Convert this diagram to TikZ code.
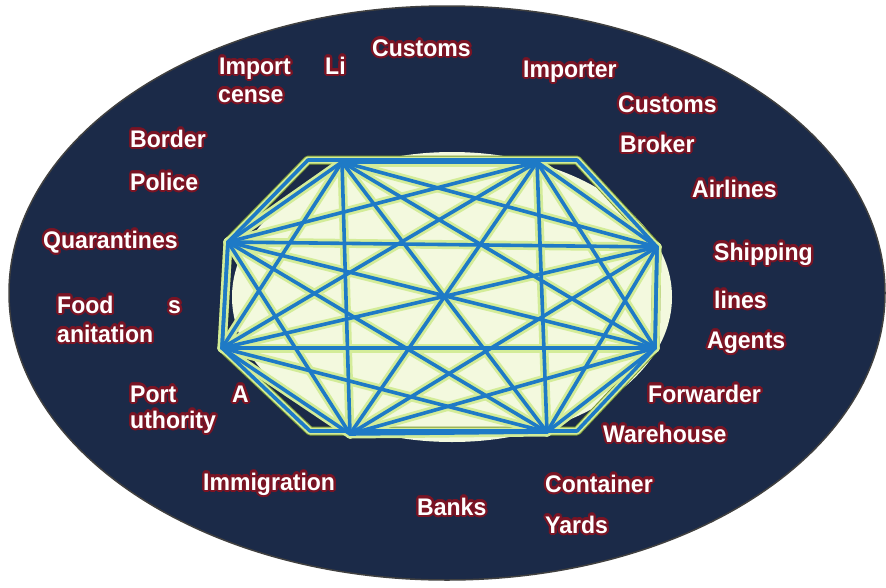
\documentclass[tikz,border=0pt]{standalone}
\usepackage{fontspec}
\newfontfamily\labelfont{Liberation Sans}[FakeStretch=0.96]
\usepackage{xcolor}
\usepackage{contour}
\contourlength{2.3pt}
\contournumber{20}
\usetikzlibrary{positioning}

\definecolor{navy}{HTML}{1B2A48}
\definecolor{glowred}{HTML}{7A1424}
\definecolor{linkblue}{HTML}{1E7AC6}
\definecolor{haze}{HTML}{D3EC98}
\definecolor{paleyel}{HTML}{F3F9DE}
\definecolor{olivegreen}{HTML}{7F9A36}

\newcommand{\glow}[1]{\contour{glowred}{#1}}

\begin{document}
\begin{tikzpicture}[
        x=1pt, y=-1pt,
        lbl/.style={text=white, inner sep=0pt, anchor=base west,
            font=\labelfont\bfseries\fontsize{24}{26}\selectfont},
        halo/.style={haze, line width=9pt, line cap=round},
        link/.style={linkblue, line width=3.6pt, line cap=round}
    ]

                \fill[white] (0,0) rectangle (886,587);

                \draw[
                    line width=1.5pt,
                    draw=black!75,
                    fill=navy
                    ] (447,293) ellipse [x radius=438, y radius=287];

                \fill[paleyel] (452,297) ellipse [x radius=220, y radius=145];

                \coordinate (v1) at (342,162);
                \coordinate (v2) at (537,162);
                \coordinate (v3) at (657,247);
                \coordinate (v4) at (655,348);
                \coordinate (v5) at (547,432);
                \coordinate (v6) at (350,434);
                \coordinate (v7) at (222,348);
                \coordinate (v8) at (228,242);
                \coordinate (o1) at (308,160);
                \coordinate (o2) at (577,160);
                \coordinate (o5) at (577,431);
                \coordinate (o6) at (310,431);

                \draw[
                    olivegreen,
                    line width=9pt,
                    line join=round
                    ] (o1) -- (o2) -- (v3) -- (v4) -- (o5) -- (o6) -- (v7) -- (v8) -- cycle;

                \draw[
                    haze,
                    line width=7pt,
                    line join=round
                    ] (o1) -- (o2) -- (v3) -- (v4) -- (o5) -- (o6) -- (v7) -- (v8) -- cycle;

                \foreach \i in {1,...,7}{
                    \pgfmathtruncatemacro\nxt{\i+1}
                    \foreach \j in {\nxt,...,8}
                        \draw[halo] (v\i) -- (v\j);
                }

                \draw[
                    linkblue,
                    line width=3.6pt,
                    line join=round
                    ] (o1) -- (o2) -- (v3) -- (v4) -- (o5) -- (o6) -- (v7) -- (v8) -- cycle;

                \foreach \i in {1,...,7}{
                    \pgfmathtruncatemacro\nxt{\i+1}
                    \foreach \j in {\nxt,...,8}
                        \draw[link] (v\i) -- (v\j);
                }

                \node[lbl] (customsTop) at (372,56) {\glow{Customs}};
                \node[lbl] (importA) at (219,74) {\glow{Import}};
                \node[lbl] (importLi) at (325,74) {\glow{Li}};
                \node[lbl] (importCense) at (218,102) {\glow{cense}};
                \node[lbl] (importer) at (523,77) {\glow{Importer}};
                \node[lbl] (brokerA) at (618,112) {\glow{Customs}};
                \node[lbl] (brokerB) at (620,152) {\glow{Broker}};
                \node[lbl] (airlines) at (692,197) {\glow{Airlines}};
                \node[lbl] (shipping) at (714,260) {\glow{Shipping}};
                \node[lbl] (shipLines) at (714,308) {\glow{lines}};
                \node[lbl] (agents) at (707,348) {\glow{Agents}};
                \node[lbl] (forwarder) at (648,402) {\glow{Forwarder}};
                \node[lbl] (warehouse) at (603,442) {\glow{Warehouse}};
                \node[lbl] (container) at (545,492) {\glow{Container}};
                \node[lbl] (yards) at (545,533) {\glow{Yards}};
                \node[lbl] (banks) at (417,515) {\glow{Banks}};
                \node[lbl] (immigration) at (203,490) {\glow{Immigration}};
                \node[lbl] (portA) at (130,402) {\glow{Port}};
                \node[lbl] (portB) at (232,402) {\glow{A}};
                \node[lbl] (portC) at (130,428) {\glow{uthority}};
                \node[lbl] (foodA) at (57,313) {\glow{Food}};
                \node[lbl] (foodB) at (168,313) {\glow{s}};
                \node[lbl] (foodC) at (57,342) {\glow{anitation}};
                \node[lbl] (quarantines) at (43,248) {\glow{Quarantines}};
                \node[lbl] (border) at (130,147) {\glow{Border}};
                \node[lbl] (police) at (130,190) {\glow{Police}};

\end{tikzpicture}
\end{document}
